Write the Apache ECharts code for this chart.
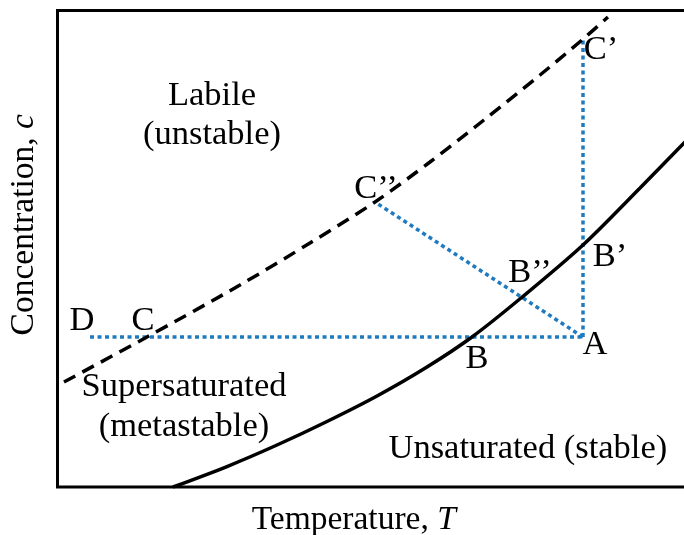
<!DOCTYPE html>
<html>
<head>
<meta charset="utf-8">
<script src="https://cdn.jsdelivr.net/npm/echarts@6/dist/echarts.min.js"></script>
<style>html,body{margin:0;padding:0;background:#fff}#chart{width:684px;height:535px}</style>
</head>
<body>
<div id="chart"></div>
<script>
// Solubility curve (solid) [T, c]
const solubilityCurve = [[18.15,0],[26.63,4.30],[34.49,8.81],[42.34,13.75],[50.20,19.10],[58.05,25.18],[65.12,31.48],[72.82,39.66],[82.56,50.79],[91.52,62.75],[98.43,72.19],[100,74.29]];
// Supersolubility curve (dashed) [T, c]
const supersolubilityCurve = [[1.02,22.04],[14.06,31.48],[28.67,42.39],[39.67,51.21],[49.88,59.81],[58.52,68.21],[67.00,77.02],[75.81,86.46],[82.40,93.81],[86.48,98.64]];
// Process paths (dotted)
const pathDA = [[5.11,31.48],[82.56,31.48]];
const pathAC1 = [[82.56,31.48],[82.56,93.81]];
const pathAC2 = [[82.56,31.48],[49.88,59.81]];
// Text labels: [T, c, text]
const regionLabels = [
  [24.27,82.06,'Labile'],[24.27,73.87,'(unstable)'],
  [19.87,20.99,'Supersaturated'],[19.87,12.59,'(metastable)'],
  [73.9,7.97,'Unsaturated (stable)']
];
const pointLabels = [
  [3.85,34.84,'D'],[13.43,34.84,'C'],[50.04,62.54,'C\u2019\u2019'],[74.23,44.91,'B\u2019\u2019'],
  [86.80,48.27,'B\u2019'],[84.45,29.80,'A'],[65.91,26.86,'B'],[85.39,91.71,'C\u2019']
];

const FONT = '"Liberation Serif","Times New Roman",serif';
const BLUE = '#1f7bc0';
const chart = echarts.init(document.getElementById('chart'));
function dotted(data){
  return {type:'line',data:data,symbol:'none',silent:true,z:2,
    lineStyle:{color:BLUE,width:3.5,type:[4,3.5]}};
}
function labels(arr){
  return {type:'scatter',symbolSize:0,silent:true,z:5,itemStyle:{opacity:1},
    data:arr.map(d=>({value:[d[0],d[1]],name:d[2]})),
    label:{show:true,position:'inside',formatter:p=>p.name,color:'#000',opacity:1,
      fontFamily:FONT,fontSize:34.5}};
}
const rich = {a:{fontFamily:FONT,fontSize:33.5,color:'#000'},b:{fontFamily:FONT,fontSize:33.5,fontStyle:'italic',color:'#000'}};
chart.setOption({
  animation:false,
  backgroundColor:'#fff',
  grid:{left:57.5,top:10.5,bottom:48,right:-10,outerBoundsMode:'none',containLabel:false,
    show:true,borderColor:'#000',borderWidth:3,backgroundColor:'transparent'},
  xAxis:{type:'value',min:0,max:100,axisLine:{show:false},axisTick:{show:false},axisLabel:{show:false},splitLine:{show:false},
    name:'{a|Temperature, }{b|T}',nameLocation:'middle',nameGap:16,
    nameTextStyle:{verticalAlign:'top',padding:[0,44,0,0],rich:rich}},
  yAxis:{type:'value',min:0,max:100,axisLine:{show:false},axisTick:{show:false},axisLabel:{show:false},splitLine:{show:false},
    name:'{a|Concentration, }{b|c}',nameLocation:'middle',nameGap:16,
    nameTextStyle:{padding:[0,0,0,48],rich:rich}},
  series:[
    {type:'line',data:solubilityCurve,smooth:0.3,symbol:'none',silent:true,z:3,lineStyle:{color:'#000',width:3.5}},
    {type:'line',data:supersolubilityCurve,smooth:0.3,symbol:'none',silent:true,z:3,lineStyle:{color:'#000',width:3.5,type:[13,8]}},
    dotted(pathDA),dotted(pathAC1),dotted(pathAC2),
    labels(regionLabels),labels(pointLabels)
  ]
});
</script>
</body>
</html>
